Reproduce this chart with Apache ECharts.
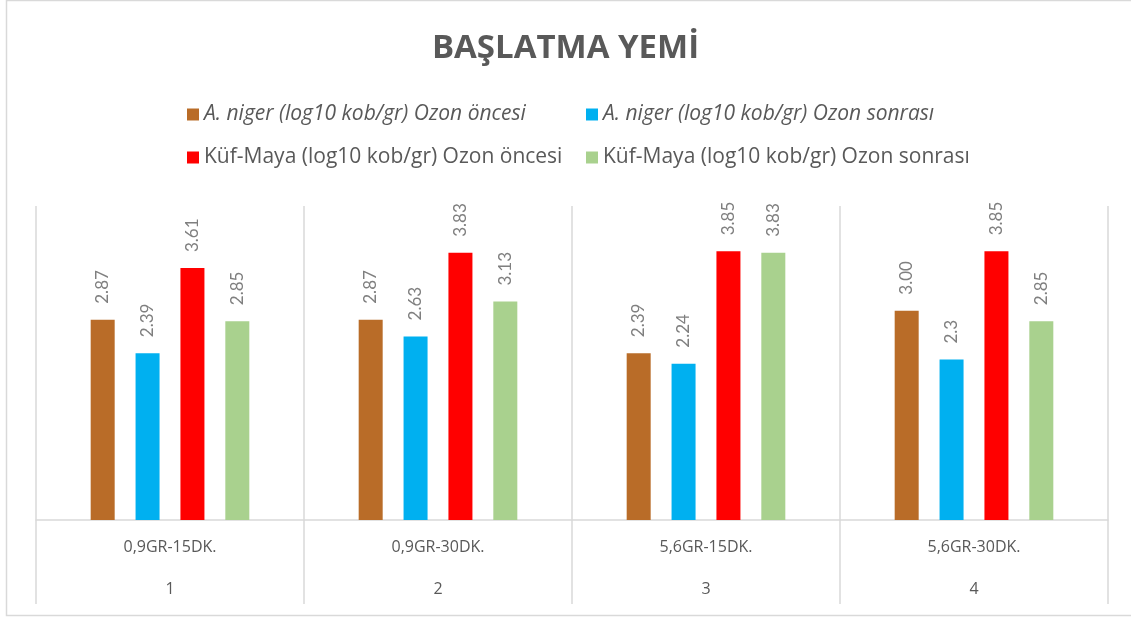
<!DOCTYPE html>
<html>
<head>
<meta charset="utf-8">
<script src="https://cdn.jsdelivr.net/npm/echarts@6/dist/echarts.min.js"></script>
<style>
  html, body { margin: 0; padding: 0; background: #fff; }
  #chart { width: 1131px; height: 619px; }
</style>
</head>
<body>
<div id="chart"></div>
<script>
const groups = ['0,9GR-15DK.', '0,9GR-30DK.', '5,6GR-15DK.', '5,6GR-30DK.'];
const groupNumbers = ['1', '2', '3', '4'];
const seriesNames = [
  'A. niger (log10 kob/gr) Ozon öncesi',
  'A. niger (log10 kob/gr) Ozon sonrası',
  'Küf-Maya (log10 kob/gr) Ozon öncesi',
  'Küf-Maya (log10 kob/gr) Ozon sonrası'
];
// values kept as shown in the labels (Excel formatting differs per point)
const nigerBefore = ['2.87', '2.87', '2.39', '3.00'];
const nigerAfter = ['2.39', '2.63', '2.24', '2.3'];
const moldBefore = ['3.61', '3.83', '3.85', '3.85'];
const moldAfter = ['2.85', '3.13', '3.83', '2.85'];
const colors = ['#b96c28', '#00b0f0', '#ff0000', '#a9d18e'];

const allValues = [nigerBefore, nigerAfter, moldBefore, moldAfter];
const gray = '#595959';
const lineGray = '#d9d9d9';

const chart = echarts.init(document.getElementById('chart'));

const legendPos = [
  { left: 187, top: 104, italic: true },
  { left: 586, top: 104, italic: true },
  { left: 187, top: 147, italic: false },
  { left: 586, top: 147, italic: false }
];

chart.setOption({
  animation: false,
  color: colors,
  title: {
    text: 'BAŞLATMA YEMİ',
    left: 'center',
    top: 27,
    textStyle: { fontFamily: 'Open Sans', fontSize: 33, fontWeight: 'bold', color: gray }
  },
  legend: legendPos.map((p, i) => ({
    data: [seriesNames[i]],
    left: p.left,
    top: p.top,
    padding: 0,
    icon: 'rect',
    itemWidth: 12,
    itemHeight: 12,
    itemGap: 0,
    textStyle: {
      fontFamily: 'Open Sans',
      fontSize: 21,
      color: gray,
      fontStyle: p.italic ? 'italic' : 'normal'
    }
  })),
  grid: { left: 36, right: 23, top: 206, bottom: 99 },
  xAxis: [
    {
      type: 'category',
      data: groups,
      position: 'bottom',
      axisLine: { lineStyle: { color: lineGray, width: 1.5 } },
      axisTick: { show: true, length: 84, lineStyle: { color: lineGray, width: 1.5 } },
      axisLabel: { margin: 19, fontFamily: 'Open Sans', fontSize: 16, color: gray },
      splitLine: { show: true, lineStyle: { color: lineGray, width: 1.5 } }
    },
    {
      type: 'category',
      data: groupNumbers,
      position: 'bottom',
      offset: 42,
      axisLine: { show: false },
      axisTick: { show: false },
      axisLabel: { margin: 19, fontFamily: 'Open Sans', fontSize: 16, color: gray }
    }
  ],
  yAxis: {
    type: 'value',
    min: 0,
    max: 4.5,
    show: false,
    splitLine: { show: false }
  },
  graphic: [{
    type: 'rect',
    shape: { x: 6.5, y: 0.5, width: 1130, height: 615 },
    style: { fill: 'none', stroke: lineGray, lineWidth: 1.5 },
    silent: true
  }],
  series: allValues.map((vals, i) => ({
    name: seriesNames[i],
    type: 'bar',
    xAxisIndex: 0,
    barWidth: 24,
    barGap: '87%',
    data: vals.map(Number),
    label: {
      show: true,
      position: 'top',
      distance: 16,
      rotate: 90,
      align: 'left',
      verticalAlign: 'middle',
      fontFamily: 'Lato',
      fontSize: 17,
      color: '#7f7f7f',
      formatter: p => vals[p.dataIndex]
    }
  }))
});
</script>
</body>
</html>
